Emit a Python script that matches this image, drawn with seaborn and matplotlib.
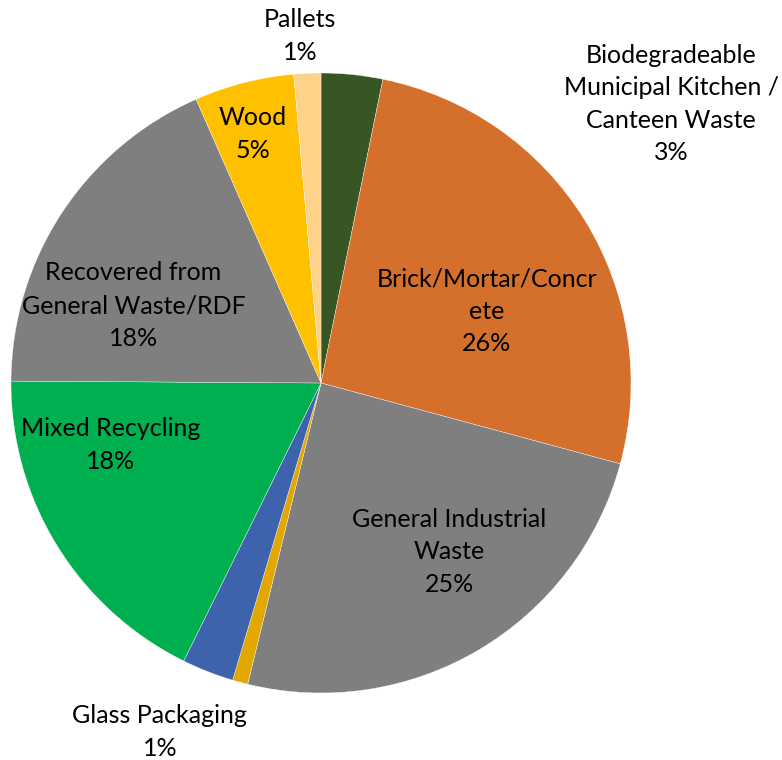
import matplotlib
matplotlib.use("Agg")
import matplotlib.pyplot as plt
import seaborn as sns

# Waste stream composition (share of total, %)
categories = [
    "Biodegradeable\nMunicipal Kitchen /\nCanteen Waste",
    "Brick/Mortar/Concr\nete",
    "General Industrial\nWaste",
    "Glass Packaging",
    "",
    "Mixed Recycling",
    "Recovered from\nGeneral Waste/RDF",
    "Wood",
    "Pallets",
]
shares = [3.2, 26.0, 24.6, 0.8, 2.7, 17.8, 18.3, 5.2, 1.4]
colors = ["#375623", "#D4702B", "#7F7F7F", "#E2A800", "#3D63AD",
          "#00B050", "#7F7F7F", "#FFC000", "#FFD28A"]

# Label anchor points, in units of the pie radius (centre at 0, 0)
label_xy = [
    (1.13, 0.90), (0.535, 0.232), (0.413, -0.545), (-0.52, -1.125),
    None, (-0.68, -0.20), (-0.605, 0.25), (-0.219, 0.803), (-0.068, 1.12),
]

sns.set_theme(style="white")
plt.rcParams["font.family"] = ["Lato", "DejaVu Sans"]

fig = plt.figure(figsize=(7.82, 7.60), dpi=100)
ax = fig.add_axes([0, 0, 1, 1])

ax.pie(shares, colors=colors, startangle=90, counterclock=False, radius=1,
       wedgeprops=dict(edgecolor="white", linewidth=0.25))

for name, val, xy in zip(categories, shares, label_xy):
    if xy is None:
        continue
    ax.text(xy[0], xy[1], f"{name}\n{val:.0f}%", ha="center", va="center",
            fontsize=18, color="black", linespacing=1.5)

ax.set_xlim(-321 / 310, (782 - 321) / 310)
ax.set_ylim(-(760 - 383) / 310, 383 / 310)
ax.set_aspect("equal")
ax.axis("off")

fig.savefig("out.png", dpi=100, facecolor="white")
